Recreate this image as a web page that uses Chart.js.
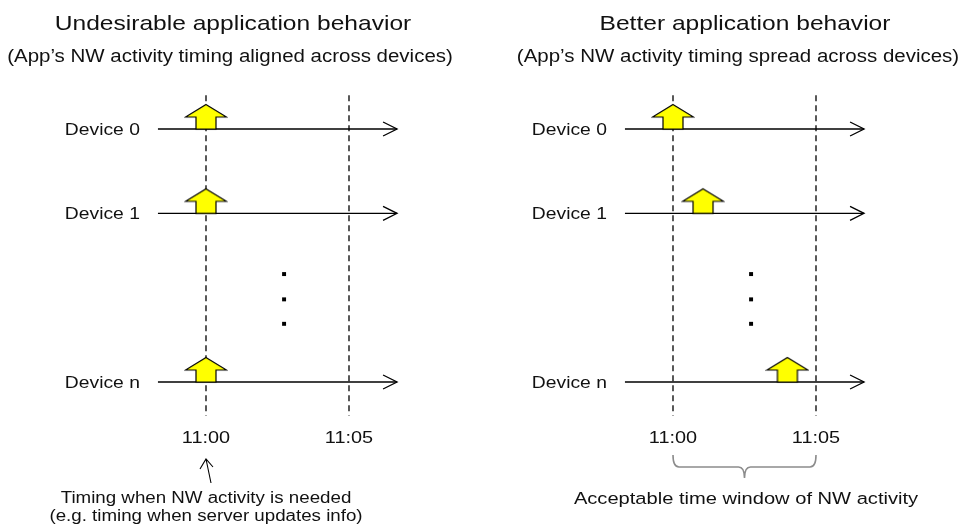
<!DOCTYPE html>
<html><head><meta charset="utf-8">
<script src="https://cdn.jsdelivr.net/npm/chart.js@4"></script>
<style>
html,body{margin:0;padding:0;background:#fff;overflow:hidden}
#wrap{position:relative;width:967px;height:529px}
.panel{position:absolute;top:0;height:529px}
</style></head><body>
<div id="wrap">
<div class="panel" style="left:0;width:483px"><canvas id="c1" width="483" height="529"></canvas></div>
<div class="panel" style="left:483px;width:484px"><canvas id="c2" width="484" height="529"></canvas></div>
</div>
<script>
// ---- data ----
const devices = ["Device 0", "Device 1", "Device n"];
const deviceRows = [0, 1, 3];
const timeTicks = [0, 5];                 // minutes after 11:00
const timeTickLabels = ["11:00", "11:05"];
const leftActivity = [0, 0, 0];           // NW activity time per device (min after 11:00)
const rightActivity = [0, 1.05, 4.0];
const ellipsisRows = [1.72, 2.02, 2.31];
const ellipsisTime = 2.73;
const leftTitle = "Undesirable application behavior";
const leftSubtitle = "(App\u2019s NW activity timing aligned across devices)";
const rightTitle = "Better application behavior";
const rightSubtitle = "(App\u2019s NW activity timing spread across devices)";
const leftCaption = ["Timing when NW activity is needed", "(e.g. timing when server updates info)"];
const rightCaption = ["Acceptable time window of NW activity"];

// ---- layout constants ----
const axisStart = -1.68, axisEnd = 6.68;
const dashTop = -0.4, dashBottom = 3.4;
const SX = 1.17;
const FONT = '"Liberation Sans", Arial, Helvetica, sans-serif';
const TXT = '#111';

// arrow image used as point style
function makeArrow() {
  const c = document.createElement('canvas');
  c.width = 44; c.height = 52;
  const g = c.getContext('2d');
  g.beginPath();
  g.moveTo(22, 1.5);
  g.lineTo(42.5, 14);
  g.lineTo(32, 14);
  g.lineTo(32, 26);
  g.lineTo(12, 26);
  g.lineTo(12, 14);
  g.lineTo(1.5, 14);
  g.closePath();
  g.fillStyle = '#ffff00';
  g.fill();
  g.lineWidth = 1.2;
  g.strokeStyle = '#000';
  g.lineJoin = 'miter';
  g.stroke();
  return c;
}
const arrowImg = makeArrow();

function stretchText(ctx, text, x, y, size, align) {
  ctx.save();
  ctx.font = size + 'px ' + FONT;
  ctx.fillStyle = TXT;
  ctx.textBaseline = 'alphabetic';
  ctx.textAlign = align;
  ctx.translate(x, y);
  ctx.scale(SX, 1);
  ctx.fillText(text, 0, 0);
  ctx.restore();
}

const decor = {
  id: 'decor',
  afterDatasetsDraw(chart, args, o) {
    const ctx = chart.ctx, xs = chart.scales.x, ys = chart.scales.y;
    // arrowheads on timelines
    ctx.save();
    ctx.strokeStyle = '#000'; ctx.lineWidth = 1.3;
    deviceRows.forEach(r => {
      const px = xs.getPixelForValue(axisEnd), py = ys.getPixelForValue(r);
      ctx.beginPath();
      ctx.moveTo(px - 14, py - 7); ctx.lineTo(px, py); ctx.lineTo(px - 14, py + 7);
      ctx.stroke();
    });
    ctx.restore();
    // titles
    stretchText(ctx, o.title, o.titleX, 30, 21, 'center');
    stretchText(ctx, o.subtitle, o.subX, 62, 17.5, 'center');
    // device labels
    devices.forEach((d, i) => {
      stretchText(ctx, d, xs.getPixelForValue(axisStart) - 18, ys.getPixelForValue(deviceRows[i]) + 6, 16.5, 'right');
    });
    // time labels
    timeTicks.forEach((t, i) => {
      stretchText(ctx, timeTickLabels[i], xs.getPixelForValue(t), 443, 17, 'center');
    });
    const x0 = xs.getPixelForValue(timeTicks[0]);
    const x1 = xs.getPixelForValue(timeTicks[1]);
    if (o.kind === 'left') {
      ctx.save();
      ctx.strokeStyle = '#000'; ctx.lineWidth = 1.1;
      ctx.beginPath();
      ctx.moveTo(x0 + 5, 483); ctx.lineTo(x0, 459);
      ctx.moveTo(x0 - 6, 469); ctx.lineTo(x0, 459); ctx.lineTo(x0 + 7, 467);
      ctx.stroke();
      ctx.restore();
      o.caption.forEach((line, i) => stretchText(ctx, line, x0, 503 + i * 18, 16, 'center'));
    } else {
      ctx.save();
      ctx.strokeStyle = '#8c8c8c'; ctx.lineWidth = 1.6;
      const top = 455, mid = 467, bot = 478, r = 6, cx = (x0 + x1) / 2;
      ctx.beginPath();
      ctx.moveTo(x0, top);
      ctx.quadraticCurveTo(x0, mid, x0 + r, mid);
      ctx.lineTo(cx - r, mid);
      ctx.quadraticCurveTo(cx, mid, cx, bot);
      ctx.quadraticCurveTo(cx, mid, cx + r, mid);
      ctx.lineTo(x1 - r, mid);
      ctx.quadraticCurveTo(x1, mid, x1, top);
      ctx.stroke();
      ctx.restore();
      o.caption.forEach((line, i) => stretchText(ctx, line, o.capX, 504 + i * 18, 17.2, 'center'));
    }
  }
};

function makePanel(id, activity, xmin, xmax, opts) {
  const datasets = [];
  datasets.push({
    label: 'activity',
    data: activity.map((t, i) => ({ x: t, y: deviceRows[i] })),
    pointStyle: arrowImg, pointRadius: 20, order: 0, showLine: false
  });
  datasets.push({
    label: 'ellipsis',
    data: ellipsisRows.map(r => ({ x: ellipsisTime, y: r })),
    pointStyle: 'rect', pointRadius: 2.8, backgroundColor: '#000', borderWidth: 0, order: 1, showLine: false
  });
  timeTicks.forEach(t => datasets.push({
    type: 'line', label: 'tick',
    data: [{ x: t, y: dashTop }, { x: t, y: dashBottom }],
    borderColor: '#000', borderWidth: 1.3, borderDash: [6, 4], pointRadius: 0, order: 3
  }));
  deviceRows.forEach(r => datasets.push({
    type: 'line', label: 'timeline',
    data: [{ x: axisStart, y: r }, { x: axisEnd, y: r }],
    borderColor: '#000', borderWidth: 1.3, pointRadius: 0, order: 2
  }));
  return new Chart(document.getElementById(id), {
    type: 'scatter',
    data: { datasets },
    options: {
      responsive: false, animation: false, events: [],
      devicePixelRatio: 1,
      layout: { padding: 0, autoPadding: false },
      scales: {
        x: { type: 'linear', min: xmin, max: xmax, display: false },
        y: { type: 'linear', min: -1.53, max: 4.743, reverse: true, display: false }
      },
      plugins: { legend: { display: false }, tooltip: { enabled: false }, decor: opts }
    },
    plugins: [decor]
  });
}

const PXMIN = 28.6;
makePanel('c1', leftActivity, -206 / PXMIN, (483 - 206) / PXMIN, {
  kind: 'left', title: leftTitle, subtitle: leftSubtitle, titleX: 233, subX: 230, caption: leftCaption
});
makePanel('c2', rightActivity, -190 / PXMIN, (484 - 190) / PXMIN, {
  kind: 'right', title: rightTitle, subtitle: rightSubtitle, titleX: 262, subX: 255, capX: 263, caption: rightCaption
});
</script>
</body></html>
